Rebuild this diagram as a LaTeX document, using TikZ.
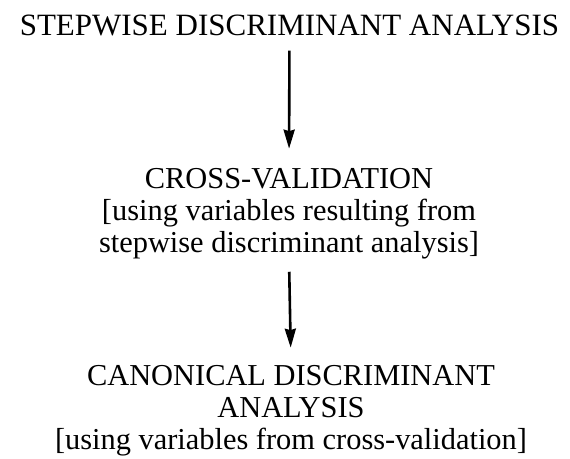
\documentclass[tikz,border=0pt]{standalone}
\usepackage{fontspec}
\setmainfont{Liberation Serif}
\usetikzlibrary{arrows.meta}
\tikzset{
  txtblock/.style={inner sep=0pt, align=center, font=\fontsize{30.4}{32}\selectfont, anchor=base},
  flowarrow/.style={line width=2.6pt, -{Stealth[length=19pt,width=11pt,inset=1.5pt]}}
}
\begin{document}
\begin{tikzpicture}[x=1pt,y=-1pt]
\useasboundingbox[fill=white] (0,0) rectangle (570,458);
\node[txtblock, font=\fontsize{31}{32}\selectfont] (n1) at (289.5,35) {STEPWISE DISCRIMINANT ANALYSIS};
\node[txtblock] (n2) at (289,252) {CROSS-VALIDATION\\{[}using variables resulting from\\stepwise discriminant analysis{]}};
\node[txtblock] (n3) at (291,449) {CANONICAL DISCRIMINANT\\ANALYSIS\\{[}using variables from cross-validation{]}};
\draw[flowarrow, shorten <=15pt, shorten >=19pt] (n1.south) -- (n2.north);
\draw[flowarrow, shorten <=13pt, shorten >=17pt] (n2.south) -- (n3.north);
\end{tikzpicture}
\end{document}
